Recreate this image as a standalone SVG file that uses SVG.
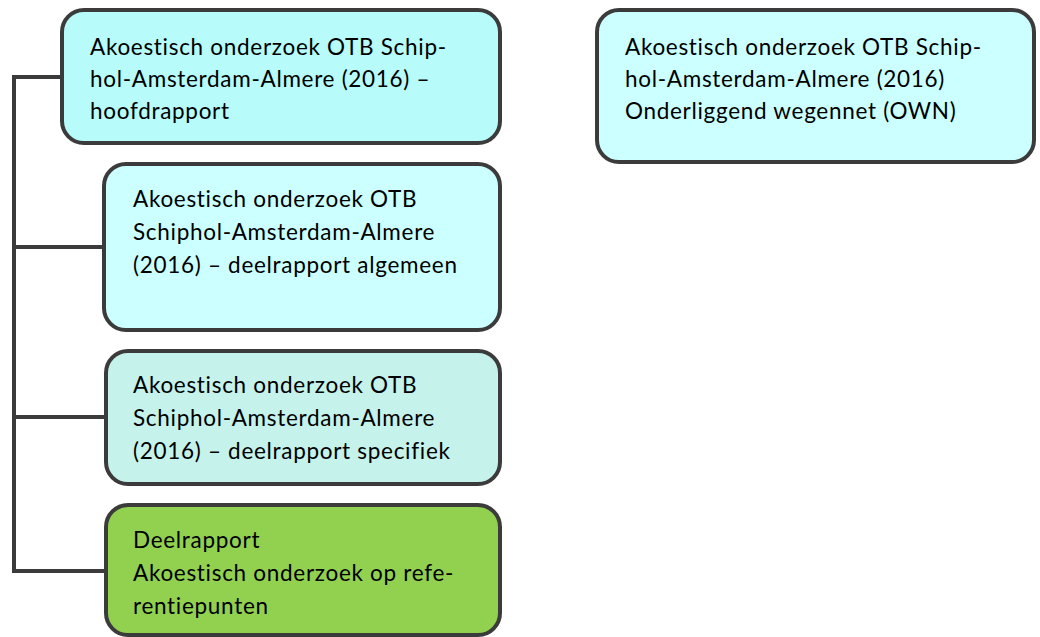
<svg xmlns="http://www.w3.org/2000/svg" width="1040" height="637" viewBox="0 0 1040 637">
<style>
.box{stroke:#3b3b3b;stroke-width:4}
.t{font-family:Lato,"Liberation Sans",sans-serif;font-size:22.5px;letter-spacing:0.7px;fill:#000;font-variant-ligatures:none}
.c{fill:none;stroke:#3b3b3b;stroke-width:4}
</style>
<rect width="1040" height="637" fill="#fff"/>
<g id="connectors">
<path class="c" d="M62,77 H14 V571 H106 M14,247 H104 M14,417 H106"/>
</g>
<g id="n1">
<rect class="box" x="62" y="10" width="438" height="133" rx="22" fill="#b7fbfb"/>
<text class="t" x="90" y="55">Akoestisch onderzoek OTB Schip-</text>
<text class="t" x="90" y="87">hol-Amsterdam-Almere (2016) –</text>
<text class="t" x="90" y="119">hoofdrapport</text>
</g>
<g id="n2">
<rect class="box" x="597" y="10" width="437" height="152" rx="22" fill="#ccffff"/>
<text class="t" x="625" y="55">Akoestisch onderzoek OTB Schip-</text>
<text class="t" x="625" y="87">hol-Amsterdam-Almere (2016)</text>
<text class="t" x="625" y="119">Onderliggend wegennet (OWN)</text>
</g>
<g id="n3">
<rect class="box" x="104" y="164" width="396" height="166" rx="22" fill="#ccffff"/>
<text class="t" x="133" y="207">Akoestisch onderzoek OTB</text>
<text class="t" x="133" y="240">Schiphol-Amsterdam-Almere</text>
<text class="t" x="133" y="273">(2016) – deelrapport algemeen</text>
</g>
<g id="n4">
<rect class="box" x="106" y="351" width="394" height="133" rx="22" fill="#c5f2ea"/>
<text class="t" x="133" y="393">Akoestisch onderzoek OTB</text>
<text class="t" x="133" y="426">Schiphol-Amsterdam-Almere</text>
<text class="t" x="133" y="459">(2016) – deelrapport specifiek</text>
</g>
<g id="n5">
<rect class="box" x="106" y="505" width="394" height="130" rx="22" fill="#92d050"/>
<text class="t" x="133" y="548">Deelrapport</text>
<text class="t" x="133" y="581">Akoestisch onderzoek op refe-</text>
<text class="t" x="133" y="614">rentiepunten</text>
</g>
</svg>
